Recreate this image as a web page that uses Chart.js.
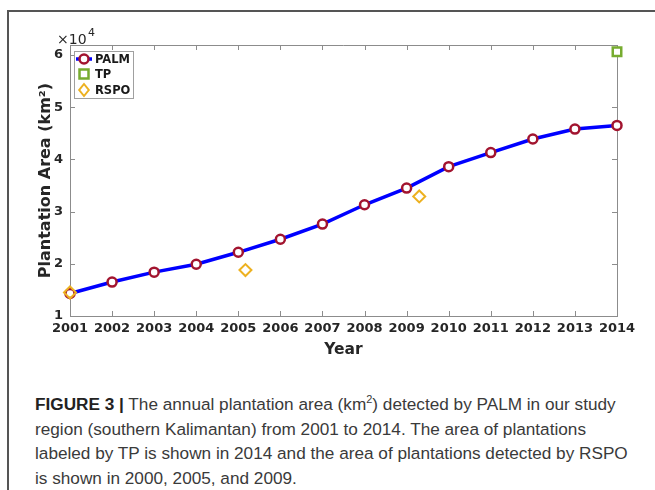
<!DOCTYPE html>
<html>
<head>
<meta charset="utf-8">
<script src="https://cdn.jsdelivr.net/npm/chart.js@4/dist/chart.umd.min.js"></script>
<style>
    body { margin: 0; background: #fff; }
    #wrap { position: relative; width: 655px; height: 490px; overflow: hidden; }
    #frame { position: absolute; left: 7px; top: 10px; width: 700px; height: 500px;
             border-left: 2px solid #555; border-top: 2px solid #555; }
    #chartBox { position: absolute; left: 0; top: 0; width: 655px; height: 370px; }
    #caption { position: absolute; left: 35px; top: 392px; width: 620px; white-space: nowrap;
               font-family: 'Liberation Sans', Arial, sans-serif; font-size: 17.2px;
               line-height: 24.5px; color: #3a3a3a; }
    #caption b { color: #222; }
</style>
</head>
<body>
<div id="wrap">
    <div id="frame"></div>
    <div id="chartBox"><canvas id="plantation"></canvas></div>
    <div id="caption"><b>FIGURE 3 |</b> The annual plantation area (km<sup style="font-size:11px;line-height:0">2</sup>) detected by PALM in our study<br>region (southern Kalimantan) from 2001 to 2014. The area of plantations<br>labeled by TP is shown in 2014 and the area of plantations detected by RSPO<br>is shown in 2000, 2005, and 2009.</div>
</div>

<script>
// data (km2)
var years = [2001, 2002, 2003, 2004, 2005, 2006, 2007, 2008, 2009, 2010, 2011, 2012, 2013, 2014];
var palmArea = [14300, 16500, 18400, 19900, 22200, 24700, 27600, 31300, 34500, 38600, 41300, 43900, 45800, 46500];
var tpYear = [2014];
var tpArea = [60600];
var rspoYear = [2001, 2005.17, 2009.3];
var rspoArea = [14500, 18800, 32900];
var yTicks = [10000, 20000, 30000, 40000, 50000, 60000];

function toPoints(xs, ys) {
    var pts = [];
    for (var i = 0; i < xs.length; i++) {
        pts.push({ x: xs[i], y: ys[i] });
    }
    return pts;
}

var tickFont = { family: 'DejaVu Sans', size: 13, weight: 'bold' };
var titleFont = { family: 'DejaVu Sans', size: 16, weight: 'bold' };

// box round the axes with inward ticks, like matlab
var boxPlugin = {
    id: 'boxPlugin',
    beforeDatasetsDraw: function(chart) {
        var ctx = chart.ctx;
        var a = chart.chartArea;
        var xs = chart.scales.x;
        var ys = chart.scales.y;
        ctx.save();
        ctx.strokeStyle = '#8c8c8c';
        ctx.lineWidth = 1;
        ctx.beginPath();
        ctx.moveTo(a.left, a.top + 0.5);
        ctx.lineTo(a.right + 0.5, a.top + 0.5);
        ctx.lineTo(a.right + 0.5, a.bottom);
        years.forEach(function(yr) {
            var px = Math.round(xs.getPixelForValue(yr)) + 0.5;
            ctx.moveTo(px, a.bottom);
            ctx.lineTo(px, a.bottom - 5);
            ctx.moveTo(px, a.top);
            ctx.lineTo(px, a.top + 5);
        });
        yTicks.forEach(function(v) {
            var py = Math.round(ys.getPixelForValue(v)) + 0.5;
            ctx.moveTo(a.left, py);
            ctx.lineTo(a.left + 5, py);
            ctx.moveTo(a.right, py);
            ctx.lineTo(a.right - 5, py);
        });
        ctx.stroke();

        // exponent label
        ctx.fillStyle = '#262626';
        ctx.font = '14px "DejaVu Sans"';
        ctx.textBaseline = 'alphabetic';
        ctx.textAlign = 'left';
        ctx.fillText('\u00d710', 57, 44);
        ctx.font = '11px "DejaVu Sans"';
        ctx.fillText('4', 88, 36);
        ctx.restore();
    },
    afterDraw: function(chart) {
        // legend box in the upper left corner
        var ctx = chart.ctx;
        var ds = chart.data.datasets;
        var bx = 74, by = 51, bw = 59, bh = 47;
        ctx.save();
        ctx.fillStyle = '#fff';
        ctx.fillRect(bx, by, bw, bh);
        ctx.strokeStyle = '#a0a0a0';
        ctx.lineWidth = 1;
        ctx.strokeRect(bx + 0.5, by + 0.5, bw, bh);
        var rows = [59, 74, 90];
        ctx.font = 'bold 11.5px "DejaVu Sans"';
        ctx.textBaseline = 'middle';
        for (var i = 0; i < ds.length; i++) {
            var d = ds[i];
            var cy = rows[i];
            if (d.showLine) {
                ctx.strokeStyle = d.borderColor;
                ctx.lineWidth = 3.5;
                ctx.beginPath();
                ctx.moveTo(76, cy);
                ctx.lineTo(92, cy);
                ctx.stroke();
            }
            ctx.fillStyle = '#fff';
            ctx.strokeStyle = d.pointBorderColor;
            ctx.lineWidth = d.pointBorderWidth;
            ctx.beginPath();
            drawMarker(ctx, d.pointStyle, d.pointRadius, 84, cy);
            ctx.fill();
            ctx.stroke();
            ctx.fillStyle = '#1a1a1a';
            ctx.fillText(d.label, 95, cy + 1);
        }
        ctx.restore();
    }
};

function drawMarker(ctx, style, r, x, y) {
    if (style === 'circle') {
        ctx.arc(x, y, r, 0, Math.PI * 2);
    } else if (style === 'rect') {
        ctx.rect(x - r * 0.75, y - r * 0.75, 1.5 * r, 1.5 * r);
    } else {
        ctx.moveTo(x, y - r);
        ctx.lineTo(x + r * 0.8, y);
        ctx.lineTo(x, y + r);
        ctx.lineTo(x - r * 0.8, y);
        ctx.closePath();
    }
}

var ctx = document.getElementById('plantation');
var chart = new Chart(ctx, {
    type: 'scatter',
    data: {
        datasets: [{
            label: 'PALM',
            data: toPoints(years, palmArea),
            showLine: true,
            clip: false,
            borderColor: '#0000ff',
            borderWidth: 3.5,
            pointStyle: 'circle',
            pointRadius: 4.5,
            pointBorderWidth: 2.5,
            pointBorderColor: '#a2142f',
            pointBackgroundColor: '#ffffff',
            order: 3
        }, {
            label: 'TP',
            data: toPoints(tpYear, tpArea),
            showLine: false,
            clip: false,
            pointStyle: 'rect',
            pointRadius: 6,
            pointBorderWidth: 2.5,
            pointBorderColor: '#77ac30',
            pointBackgroundColor: '#ffffff',
            order: 2
        }, {
            label: 'RSPO',
            data: toPoints(rspoYear, rspoArea),
            showLine: false,
            clip: false,
            pointStyle: 'rectRot',
            pointRadius: 6,
            pointBorderWidth: 2,
            pointBorderColor: '#edb120',
            pointBackgroundColor: 'rgba(255,255,255,0)',
            order: 1
        }]
    },
    options: {
        responsive: true,
        maintainAspectRatio: false,
        animation: false,
        layout: {
            padding: { left: 36, right: 38, top: 45, bottom: 9 }
        },
        plugins: {
            legend: { display: false },
            tooltip: { enabled: false }
        },
        scales: {
            x: {
                type: 'linear',
                min: 2001,
                max: 2014,
                afterFit: function(scale) { scale.height = 45; },
                afterBuildTicks: function(scale) {
                    scale.ticks = years.map(function(v) { return { value: v }; });
                },
                grid: { display: false, drawTicks: false },
                border: { display: true, color: '#8c8c8c', width: 1 },
                ticks: {
                    padding: 5,
                    color: '#262626',
                    font: tickFont,
                    maxRotation: 0,
                    autoSkip: false,
                    callback: function(v) { return String(v); }
                },
                title: {
                    display: true,
                    text: 'Year',
                    color: '#262626',
                    font: { family: 'DejaVu Sans', size: 15.5, weight: 'bold' },
                    padding: { top: 0, bottom: 2 }
                }
            },
            y: {
                min: 10000,
                max: 61900,
                afterFit: function(scale) { scale.width = 34; },
                afterBuildTicks: function(scale) {
                    scale.ticks = yTicks.map(function(v) { return { value: v }; });
                },
                grid: { display: false, drawTicks: false },
                border: { display: true, color: '#8c8c8c', width: 1 },
                ticks: {
                    padding: 7,
                    color: '#262626',
                    font: tickFont,
                    callback: function(v) { return String(v / 10000); }
                },
                title: {
                    display: true,
                    text: 'Plantation Area (km\u00b2)',
                    color: '#262626',
                    font: titleFont,
                    padding: { top: 0, bottom: 2 }
                }
            }
        }
    },
    plugins: [boxPlugin]
});
</script>
</body>
</html>
